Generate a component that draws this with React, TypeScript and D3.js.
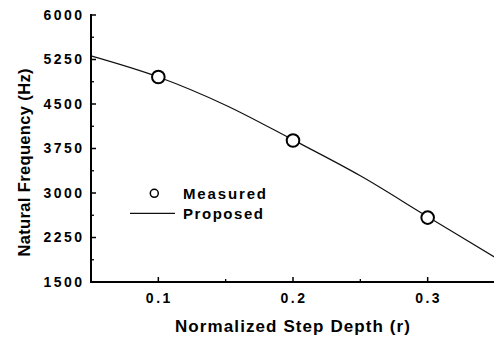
import React from "react";
import * as d3 from "d3";

const measuredR = [0.1, 0.2, 0.3];
const measuredHz = [4955, 3885, 2585];
const proposedR = [0.05, 0.1, 0.15, 0.2, 0.25, 0.3, 0.35];
const proposedHz = [5310, 4955, 4480, 3895, 3290, 2600, 1915];
const yMajor = [1500, 2250, 3000, 3750, 4500, 5250, 6000];
const yMinor = [1875, 2625, 3375, 4125, 4875, 5625];
const xMajor = [0.1, 0.2, 0.3];
const xMinor = [0.15, 0.25];
const xTitle = "Normalized Step Depth (r)";
const yTitle = "Natural Frequency (Hz)";
const legendLabels = ["Measured", "Proposed"];

export default function App() {
  const W = 494, H = 343;
  const x = d3.scaleLinear().domain([0.05, 0.35]).range([91, 495]);
  const y = d3.scaleLinear().domain([1500, 6000]).range([282, 15]);
  const line = d3
    .line<number>()
    .x((_, i) => x(proposedR[i]))
    .y((d) => y(d))
    .curve(d3.curveCatmullRom);
  const font = "'Liberation Sans', Arial, Helvetica, sans-serif";
  return (
    <svg
      width={W}
      height={H}
      style={{ position: "absolute", left: 0, top: 0, background: "#fff" }}
      fontFamily={font}
    >
      <rect width={W} height={H} fill="#fff" />
      <path d={line(proposedHz) || ""} fill="none" stroke="#111" strokeWidth={1.2} />
      {measuredHz.map((v, i) => (
        <circle key={i} cx={x(measuredR[i])} cy={y(v)} r={6.3} fill="#fff" stroke="#000" strokeWidth={2} />
      ))}
      {/* axes */}
      <line x1={91} x2={91} y1={14} y2={283} stroke="#000" strokeWidth={2} />
      <line x1={90} x2={494} y1={282} y2={282} stroke="#000" strokeWidth={2} />
      {yMajor.map((v) => (
        <g key={v}>
          <line x1={91} x2={96} y1={y(v)} y2={y(v)} stroke="#000" strokeWidth={1.5} />
          <text x={43.5} y={y(v) + 4.8} fontSize={14} fontWeight="bold" textLength={38.5} lengthAdjust="spacing">
            {v}
          </text>
        </g>
      ))}
      {yMinor.map((v) => (
        <line key={v} x1={91} x2={94} y1={y(v)} y2={y(v)} stroke="#000" strokeWidth={1.3} />
      ))}
      {xMajor.map((v) => (
        <g key={v}>
          <line x1={x(v)} x2={x(v)} y1={282} y2={277} stroke="#000" strokeWidth={1.5} />
          <text x={x(v) - 12.5} y={303.3} fontSize={14} fontWeight="bold" textLength={24.5} lengthAdjust="spacing">
            {v.toFixed(1)}
          </text>
        </g>
      ))}
      {xMinor.map((v) => (
        <line key={v} x1={x(v)} x2={x(v)} y1={282} y2={279} stroke="#000" strokeWidth={1.3} />
      ))}
      <text x={175} y={331.5} fontSize={17} fontWeight="bold" textLength={235} lengthAdjust="spacing">
        {xTitle}
      </text>
      <text
        transform="translate(29.5,256.5) rotate(-90)"
        fontSize={16.5}
        fontWeight="bold"
        textLength={188}
        lengthAdjust="spacing"
      >
        {yTitle}
      </text>
      {/* legend */}
      <circle cx={154.3} cy={193.3} r={4} fill="#fff" stroke="#000" strokeWidth={1.5} />
      <line x1={130} x2={175} y1={213.3} y2={213.3} stroke="#111" strokeWidth={1.2} />
      <text x={183} y={199} fontSize={15} fontWeight="bold" textLength={83} lengthAdjust="spacing">
        {legendLabels[0]}
      </text>
      <text x={183} y={218.5} fontSize={15} fontWeight="bold" textLength={80} lengthAdjust="spacing">
        {legendLabels[1]}
      </text>
    </svg>
  );
}
